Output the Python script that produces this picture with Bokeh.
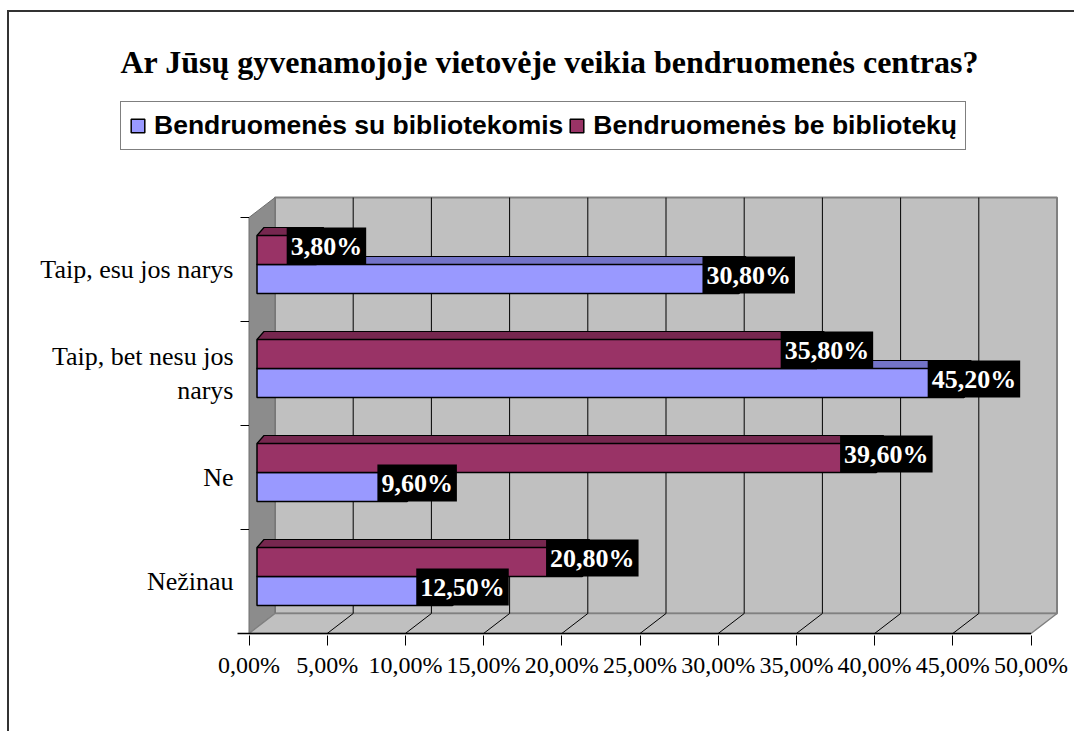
from bokeh.plotting import figure
from bokeh.models import Range1d, FixedTicker, Legend, LegendItem, ColumnDataSource, Title
from bokeh.core.properties import value
from bokeh.embed import file_html
from bokeh.resources import INLINE

# ---------------- data ----------------
title_text = "Ar Jūsų gyvenamojoje vietovėje veikia bendruomenės centras?"
categories = ["Nežinau", "Ne", "Taip, bet nesu jos\nnarys", "Taip, esu jos narys"]  # bottom -> top
series_names = ["Bendruomenės su bibliotekomis", "Bendruomenės be bibliotekų"]
su_bibliotekomis = [0.125, 0.096, 0.452, 0.308]
be_bibliotekU = [0.208, 0.396, 0.358, 0.038]
su_labels = ["12,50%", "9,60%", "45,20%", "30,80%"]
be_labels = ["20,80%", "39,60%", "35,80%", "3,80%"]
x_ticks = [0.0, 0.05, 0.1, 0.15, 0.2, 0.25, 0.3, 0.35, 0.4, 0.45, 0.5]
x_tick_labels = ["0,00%", "5,00%", "10,00%", "15,00%", "20,00%", "25,00%",
                 "30,00%", "35,00%", "40,00%", "45,00%", "50,00%"]

# colours
SU_FRONT, SU_TOP, SU_SIDE = "#9999FF", "#7373C8", "#5C5CA8"
BE_FRONT, BE_TOP, BE_SIDE = "#993366", "#76274F", "#5E1F3F"

# ---------------- geometry (pixel based styling constants) ----------------
PX = 1564.0   # px per x unit
PY = 104.0    # px per category band
DX = 26 / PX  # wall depth
DY = 20 / PY
BX0 = 8 / PX  # bar depth shift
BDX = 7 / PX  # bar own depth
BDY = 8 / PY
LOW_B, MID_B, HIGH_B = 28 / PY, 57 / PY, 86 / PY

W, H = 1067, 721                   # canvas, placed at page (9, 12)
ML, MR, MT, MB = 106, 18, 88, 98   # frame: page x 115..1058, y 100..635
fw = W - ML - MR
fh = H - MT - MB
x0 = -133.5 / PX                   # x = 0 sits at page x 248.5
y0 = -2 / PY                       # y = 0 sits at page y 633
n = len(categories)
xmax = x_ticks[-1]

p = figure(width=W, height=H, output_backend="svg", toolbar_location=None, title=None,
           x_range=Range1d(x0, x0 + fw / PX), y_range=Range1d(y0, y0 + fh / PY),
           min_border_left=ML, min_border_right=MR, min_border_top=MT, min_border_bottom=MB,
           styles={"margin-left": "7px", "margin-top": "10px",
                   "border-top": "2px solid #333333", "border-left": "2px solid #333333"})
p.background_fill_color = None
p.border_fill_color = "white"
p.outline_line_color = None
p.xgrid.visible = False
p.ygrid.visible = False

# walls and floor
p.patch([DX, xmax + DX, xmax + DX, DX], [DY, DY, n + DY, n + DY],
        fill_color="#C0C0C0", line_color="#808080", line_width=2)
p.patch([0, DX, DX, 0], [0, DY, n + DY, n], fill_color="#8C8C8C", line_color="#6E6E6E", line_width=1)
p.patch([0, xmax, xmax + DX, DX], [0, 0, DY, DY], fill_color="#C0C0C0", line_color="#808080", line_width=1.5)

inner = x_ticks[1:-1]
p.segment(x0=[t + DX for t in inner], y0=[DY] * len(inner), x1=[t + DX for t in inner], y1=[n + DY] * len(inner),
          line_color="black", line_width=1)
p.segment(x0=inner, y0=[0] * len(inner), x1=[t + DX for t in inner], y1=[DY] * len(inner),
          line_color="black", line_width=1)
# category-axis line along the floor front edge and category boundary ticks
p.segment(x0=[-11.5 / PX], y0=[0], x1=[xmax], y1=[0], line_color="black", line_width=1.5)
bounds = list(range(n + 1))
p.segment(x0=[-8.5 / PX] * len(bounds), y0=bounds, x1=[0] * len(bounds), y1=bounds,
          line_color="black", line_width=1)


def draw_series(vals, b0, b1, front, top_c, side):
    ks = list(range(len(vals)))
    src = ColumnDataSource(dict(left=[BX0] * len(vals), right=[v + BX0 for v in vals],
                                bottom=[k + b0 for k in ks], top=[k + b1 for k in ks]))
    tx, ty, sx, sy = [], [], [], []
    for k, v in zip(ks, vals):
        tx.append([BX0, v + BX0, v + BX0 + BDX, BX0 + BDX])
        ty.append([k + b1, k + b1, k + b1 + BDY, k + b1 + BDY])
        sx.append([v + BX0, v + BX0 + BDX, v + BX0 + BDX, v + BX0])
        sy.append([k + b0, k + b0 + BDY, k + b1 + BDY, k + b1])
    p.patches(tx, ty, fill_color=top_c, line_color="black", line_width=1.2)
    p.patches(sx, sy, fill_color=side, line_color="black", line_width=1.2)
    return p.quad(left="left", right="right", bottom="bottom", top="top", source=src,
                  fill_color=front, line_color="black", line_width=1.5)


r_su = draw_series(su_bibliotekomis, LOW_B, MID_B, SU_FRONT, SU_TOP, SU_SIDE)
r_be = draw_series(be_bibliotekU, MID_B, HIGH_B, BE_FRONT, BE_TOP, BE_SIDE)

# data labels
for vals, labs, b0, b1 in [(su_bibliotekomis, su_labels, LOW_B, MID_B), (be_bibliotekU, be_labels, MID_B, HIGH_B)]:
    p.text(x=[v + BX0 + 10 / PX for v in vals], y=[k + (b0 + b1) / 2 + 4 / PY for k in range(len(vals))],
           text=labs, text_font=value("Liberation Serif"), text_font_style="bold",
           text_font_size="26px", text_color="white", text_align="center", text_baseline="middle",
           background_fill_color="black", padding=4)

# axes
p.xaxis.ticker = FixedTicker(ticks=x_ticks)
p.xaxis.major_label_overrides = dict(zip(x_ticks, x_tick_labels))
p.xaxis.axis_line_color = None
p.xaxis.major_tick_line_color = "black"
p.xaxis.major_tick_out = 10
p.xaxis.major_tick_in = 0
p.xaxis.minor_tick_line_color = None
p.xaxis.major_label_standoff = 6
p.xaxis.major_label_text_font = "Liberation Serif"
p.xaxis.major_label_text_font_size = "24px"
p.xaxis.major_label_text_color = "black"

cat_ticks = [k + 0.5 for k in range(n)]
p.yaxis.ticker = FixedTicker(ticks=cat_ticks)
p.yaxis.major_label_overrides = dict(zip(cat_ticks, categories))
p.yaxis.axis_line_color = None
p.yaxis.major_tick_line_color = None
p.yaxis.major_tick_out = 0
p.yaxis.major_tick_in = 0
p.yaxis.minor_tick_line_color = None
p.yaxis.major_label_standoff = -118
p.yaxis.major_label_text_font = "Liberation Serif"
p.yaxis.major_label_text_font_size = "26px"
p.yaxis.major_label_text_color = "black"

legend = Legend(items=[LegendItem(label=series_names[0], renderers=[r_su]),
                       LegendItem(label=series_names[1], renderers=[r_be])],
                location=(5, 485), orientation="horizontal", margin=0,
                padding=8, spacing=5, label_standoff=8, glyph_width=17, glyph_height=17,
                label_height=27, label_text_color="black",
                label_text_font="Liberation Sans", label_text_font_style="bold",
                label_text_font_size="26.5px", border_line_color="black", border_line_width=1,
                background_fill_color="white")
p.add_layout(legend)

title = Title(text=title_text, text_font="Liberation Serif", text_font_style="bold",
              text_font_size="32px", text_color="black", align="left", offset=5, standoff=40,
              vertical_align="middle")
p.add_layout(title, "above")

open("out.html", "w").write(file_html(p, INLINE))
